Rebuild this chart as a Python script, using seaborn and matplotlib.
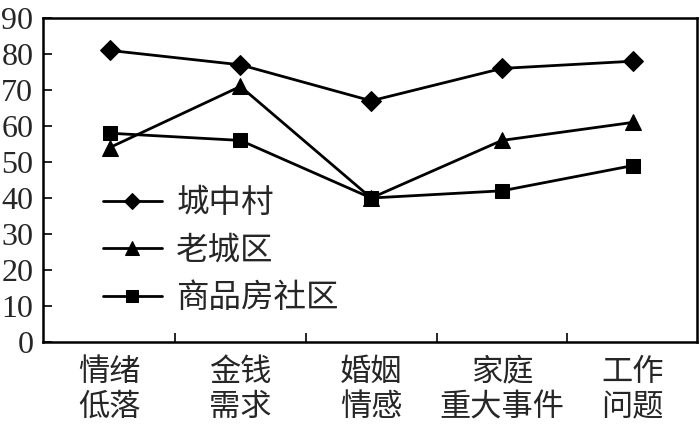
import seaborn as sns
import matplotlib.pyplot as plt
import pandas as pd

categories = ['情绪\n低落', '金钱\n需求', '婚姻\n情感', '家庭\n重大事件', '工作\n问题']
chengzhongcun = [81, 77, 67, 76, 78]
laochengqu = [54, 71, 40, 56, 61]
shangpinfang = [58, 56, 40, 42, 49]
series_names = ['城中村', '老城区', '商品房社区']

rows = []
for name, vals in zip(series_names, [chengzhongcun, laochengqu, shangpinfang]):
    for i, v in enumerate(vals):
        rows.append({'idx': i, 'value': v, 'group': name})
df = pd.DataFrame(rows)

sns.set_style('ticks')
plt.rcParams['font.family'] = ['Liberation Serif', 'Noto Sans CJK SC']

fig = plt.figure(figsize=(7, 4.29), dpi=100)
ax = fig.add_axes([0.0614, 0.2028, 0.934, 0.7552])

sns.lineplot(data=df, x='idx', y='value', style='group', hue='group',
             palette=['black'] * 3, markers=['D', '^', 's'], dashes=False,
             markersize=10, linewidth=2.0, markeredgecolor='black', ax=ax)
# triangles look small next to the others
for ln in ax.lines:
    if ln.get_marker() == '^':
        ln.set_markersize(12)

ax.set_xlim(-0.51, 4.49)
ax.set_ylim(0, 90)
ax.set_yticks(range(0, 91, 10))
ax.set_xticks(range(len(categories)))
ax.set_xticklabels(categories, fontsize=22.5, linespacing=1.3)
ax.set_xticks([0.5, 1.5, 2.5, 3.5], minor=True)
ax.tick_params(axis='x', which='major', length=0, pad=12)
ax.tick_params(axis='x', which='minor', direction='in', length=6.5, width=1.4)
ax.tick_params(axis='y', direction='in', length=6.5, width=1.4, labelsize=23, pad=7)
ax.set_xlabel('')
ax.set_ylabel('')
for s in ax.spines.values():
    s.set_linewidth(1.8)
    s.set_color('black')

ax.legend(loc='upper left', bbox_to_anchor=(0.092, 0.472), frameon=False,
          fontsize=23.4, handlelength=1.8, handletextpad=0.45, labelspacing=0.53,
          borderpad=0, borderaxespad=0, markerscale=0.85)

fig.savefig('out.png', dpi=100)
